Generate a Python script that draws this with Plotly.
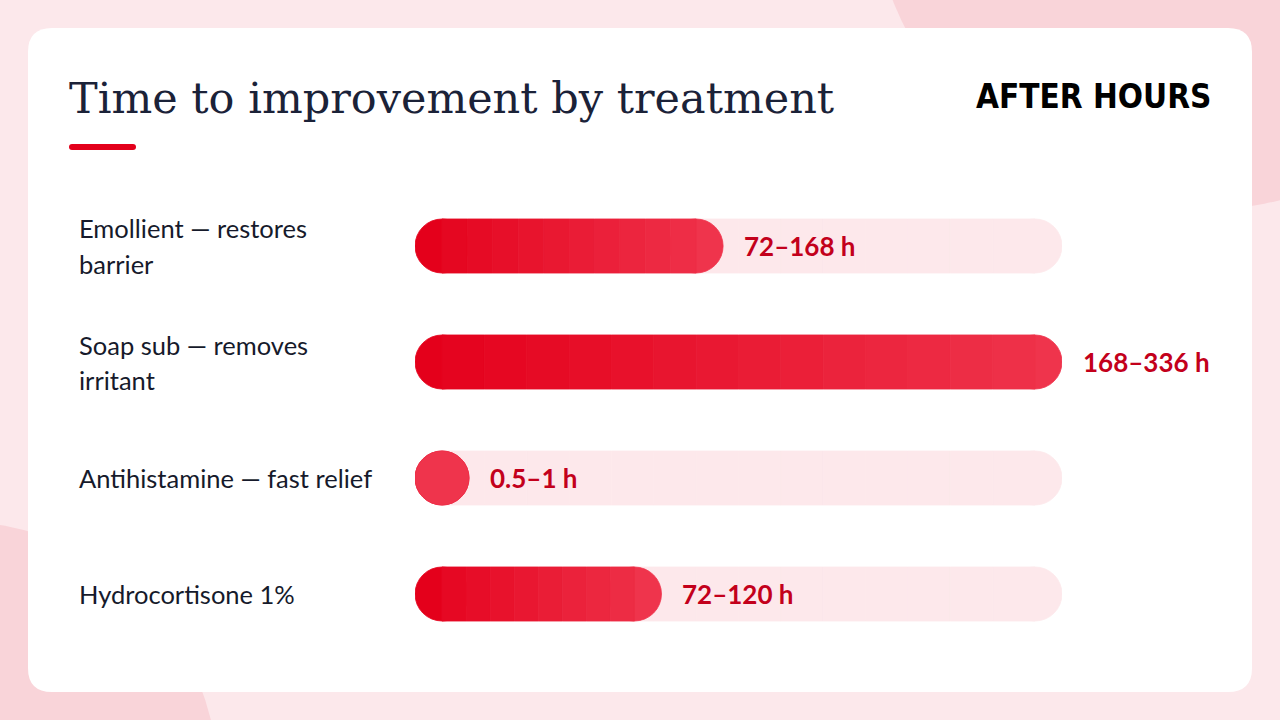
import plotly.graph_objects as go
import numpy as np

# ---------------- data ----------------
labels = ["Emollient — restores<br>barrier", "Soap sub — removes<br>irritant",
          "Antihistamine — fast relief", "Hydrocortisone 1%"]
range_text = ["72–168 h", "168–336 h", "0.5–1 h", "72–120 h"]
low_h = [72, 168, 0.5, 72]
high_h = [168, 336, 1, 120]
mid_h = [(a + b) / 2 for a, b in zip(low_h, high_h)]

title = "Time to improvement by treatment"
brand = "AFTER HOURS"

# ---------------- style ----------------
W, H = 1280, 720
X0_PX, X1_PX = 415, 1062          # track extent in px
ROW0_PX, ROW_STEP = 246, 116      # row centre px
BAR_PX = 54
C_DARK = np.array([228, 0, 27])
C_LIGHT = np.array([239, 52, 76])
TRACK = "#fde8eb"
VAL_COL = "#c3001b"
LABEL_COL = "#161a2b"
TITLE_COL = "#1b2238"

n = len(labels)
xmax = max(mid_h)
unit_px = (X1_PX - X0_PX) / xmax
cap = BAR_PX / unit_px            # length of a round cap pill (2r) in data units
rad = cap / 2
bar_w = BAR_PX / ROW_STEP


def px(x):
    return x / W


def py(y):
    return 1 - y / H


def col(t):
    c = C_DARK + (C_LIGHT - C_DARK) * t
    return "rgb(%d,%d,%d)" % tuple(np.round(c).astype(int))


def rounded_rect(x0, y0, x1, y1, r):
    return (f"M{px(x0 + r)},{py(y0)} L{px(x1 - r)},{py(y0)} Q{px(x1)},{py(y0)} {px(x1)},{py(y0 + r)} "
            f"L{px(x1)},{py(y1 - r)} Q{px(x1)},{py(y1)} {px(x1 - r)},{py(y1)} "
            f"L{px(x0 + r)},{py(y1)} Q{px(x0)},{py(y1)} {px(x0)},{py(y1 - r)} "
            f"L{px(x0)},{py(y0 + r)} Q{px(x0)},{py(y0)} {px(x0 + r)},{py(y0)} Z")


fig = go.Figure()


def add_seg(row, base, length, color, rounded):
    fig.add_trace(go.Bar(
        y=[row], x=[length], base=[base], orientation="h", width=bar_w,
        marker=dict(color=color, cornerradius="50%" if rounded else 0,
                    line=dict(color=color, width=0.8)),
        hoverinfo="skip", showlegend=False))


def add_pill(row, length, color_fn):
    # left cap, right cap (round pills), then square gradient body between cap centres
    add_seg(row, cap, -cap, color_fn(0.0), True)
    add_seg(row, length, -cap, color_fn(1.0), True)
    body = length - cap
    if body > 0:
        N = int(max(1, min(14, body * unit_px // 24)))
        edges = np.linspace(rad, length - rad, N + 1)
        for i in range(N):
            t = ((edges[i] + edges[i + 1]) / 2) / length
            add_seg(row, edges[i], edges[i + 1] - edges[i], color_fn(t), False)


# tracks
for r in range(n):
    add_pill(r, xmax, lambda t: TRACK)

# gradient bars
for r in range(n):
    add_pill(r, max(mid_h[r], cap), col)

ann = []
for r in range(n):
    lines = labels[r].split("<br>")
    k = len(lines)
    for j, t in enumerate(lines):
        off = (j - (k - 1) / 2) * 35
        ann.append(dict(text=t, xref="paper", x=px(77), xanchor="left",
                        yref="y", y=r, yanchor="middle", yshift=-off,
                        showarrow=False, font=dict(family="Lato", size=25.5, color=LABEL_COL)))
    L = max(mid_h[r], cap)
    ann.append(dict(text=range_text[r], xref="x", x=L, xanchor="left", xshift=19,
                    yref="y", y=r, yanchor="middle", showarrow=False,
                    font=dict(family="Lato", size=26, color=VAL_COL, weight="bold")))

ann.append(dict(text=title, xref="paper", yref="paper", x=px(67), y=py(98), xanchor="left",
                yanchor="middle", showarrow=False,
                font=dict(family="DejaVu Serif", size=43, color=TITLE_COL)))
ann.append(dict(text=brand, xref="paper", yref="paper", x=px(1213), y=py(97), xanchor="right",
                yanchor="middle", showarrow=False,
                font=dict(family="DejaVu Sans Condensed, DejaVu Sans, sans-serif",
                          size=33, color="#000000", weight="bold")))

shapes = [
    dict(type="circle", xref="paper", yref="paper", layer="below",
         x0=px(1200 - 330), x1=px(1200 + 330), y0=py(-120 + 330), y1=py(-120 - 330),
         fillcolor="#f9d4d9", line=dict(width=0)),
    dict(type="circle", xref="paper", yref="paper", layer="below",
         x0=px(-40 - 258), x1=px(-40 + 258), y0=py(780 + 258), y1=py(780 - 258),
         fillcolor="#f9d4d9", line=dict(width=0)),
    dict(type="path", xref="paper", yref="paper", layer="below",
         path=rounded_rect(28, 28, 1252, 692, 24), fillcolor="#ffffff", line=dict(width=0)),
    dict(type="path", xref="paper", yref="paper", layer="below",
         path=rounded_rect(69, 144, 136, 150, 3), fillcolor="#e3001b", line=dict(width=0)),
]

top_px = ROW0_PX - ROW_STEP / 2
bot_px = ROW0_PX + ROW_STEP * (n - 1) + ROW_STEP / 2

fig.update_layout(
    width=W, height=H, margin=dict(l=0, r=0, t=0, b=0),
    paper_bgcolor="#fce8eb", plot_bgcolor="rgba(0,0,0,0)",
    barmode="overlay", showlegend=False,
    xaxis=dict(domain=[px(X0_PX), px(X1_PX)], range=[0, xmax], visible=False, fixedrange=True),
    yaxis=dict(domain=[py(bot_px), py(top_px)], range=[n - 0.5, -0.5], visible=False, fixedrange=True),
    annotations=ann, shapes=shapes,
)

fig.write_html("out.html", config={"displayModeBar": False},
               post_script="document.body.style.margin='0';document.body.style.overflow='hidden';")
